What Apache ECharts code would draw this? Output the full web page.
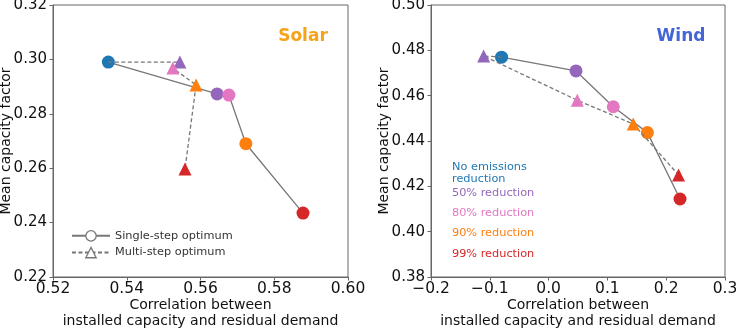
<!DOCTYPE html>
<html>
<head>
<meta charset="utf-8">
<script src="https://cdn.jsdelivr.net/npm/echarts@6/dist/echarts.min.js"></script>
<style>
html,body{margin:0;padding:0;background:#fff;}
#chart{width:736px;height:329px;}
</style>
</head>
<body>
<div id="chart"></div>
<script>
// scenario order: none, 50%, 80%, 90%, 99% reduction
const scenarioLabels=["No emissions\nreduction","50% reduction","80% reduction","90% reduction","99% reduction"];
const scenarioColors=["#1f77b4","#9467bd","#e377c2","#ff7f0e","#d62728"];

// solar: [correlation, mean capacity factor]
const solarSingle=[[0.535,0.299],[0.5645,0.2873],[0.5677,0.2869],[0.5723,0.269],[0.5878,0.2435]];
const solarMulti=[[0.535,0.299],[0.5544,0.299],[0.5525,0.2968],[0.5588,0.2906],[0.5558,0.2597]];

// wind
const windSingle=[[-0.08,0.477],[0.0466,0.4709],[0.110,0.4551],[0.168,0.4437],[0.2235,0.4144]];
const windMulti=[[-0.08,0.477],[-0.1105,0.4775],[0.0487,0.458],[0.144,0.4475],[0.221,0.425]];

const solarXTicks=[0.52,0.60,0.02];
const solarYTicks=[0.22,0.32,0.02];
const windXTicks=[-0.2,0.3,0.1];
const windYTicks=[0.38,0.50,0.02];

const lineGrey="#777";
const font="DejaVu Sans";

function pts(rows,skipFirst){
    return rows.map((r,i)=>({
        value:r,
        symbolSize:(skipFirst&&i===0)?0:undefined,
        itemStyle:{color:scenarioColors[i]}
    }));
}

function xAxis(idx,t,dec){
    return {
        gridIndex:idx,type:"value",min:t[0],max:t[1],interval:t[2],
        name:"Correlation between\ninstalled capacity and residual demand",
        nameLocation:"middle",nameGap:20,nameMoveOverlap:false,
        nameTextStyle:{fontFamily:font,fontSize:14,color:"#111",lineHeight:16},
        axisLine:{onZero:false,lineStyle:{color:"#666"}},
        axisTick:{show:true,length:3.5,lineStyle:{color:"#666"}},
        axisLabel:{fontFamily:font,fontSize:15.5,color:"#111",margin:4,
            formatter:v=>{const s=Math.abs(v).toFixed(dec);return v<-1e-9?"\u2212"+s:s;}},
        splitLine:{show:false}
    };
}
function yAxis(idx,t,gap){
    return {
        gridIndex:idx,type:"value",min:t[0],max:t[1],interval:t[2],
        name:"Mean capacity factor",nameLocation:"middle",nameGap:gap,nameMoveOverlap:false,
        nameTextStyle:{fontFamily:font,fontSize:14,color:"#111"},
        axisLine:{onZero:false,lineStyle:{color:"#666"}},
        axisTick:{show:true,length:3.5,lineStyle:{color:"#666"}},
        axisLabel:{fontFamily:font,fontSize:15,color:"#111",margin:6,formatter:v=>v.toFixed(2)},
        splitLine:{show:false}
    };
}

function series(name,idx,rows,dashed,symbol){
    return {
        name:name,type:"line",xAxisIndex:idx,yAxisIndex:idx,
        data:pts(rows,dashed),symbol:symbol,symbolSize:13,
        lineStyle:{color:lineGrey,width:1.3,type:dashed?[4,2.5]:"solid"},
        itemStyle:{color:lineGrey},
        z:dashed?3:2,animation:false
    };
}

const chart=echarts.init(document.getElementById("chart"));

const annY=[168,180,194,214,234,255];

chart.setOption({
    animation:false,
    title:[
        {text:"Solar",left:298,top:32,textAlign:"center",textVerticalAlign:"middle",
         textStyle:{fontFamily:font,fontSize:17,fontWeight:"bold",color:"#f5a31a"}},
        {text:"Wind",left:676,top:32,textAlign:"center",textVerticalAlign:"middle",
         textStyle:{fontFamily:font,fontSize:17,fontWeight:"bold",color:"#4466d6"}}
    ],
    grid:[
        {left:53,width:295,top:5,height:272,show:true,borderColor:"#666",borderWidth:1,outerBoundsMode:"none"},
        {left:431,width:294,top:5,height:272,show:true,borderColor:"#666",borderWidth:1,outerBoundsMode:"none"}
    ],
    xAxis:[xAxis(0,solarXTicks,2),xAxis(1,windXTicks,1)],
    yAxis:[yAxis(0,solarYTicks,40),yAxis(1,windYTicks,40)],
    legend:{
        left:66,top:225,orient:"vertical",itemGap:5,itemWidth:38,itemHeight:13,
        textStyle:{fontFamily:font,fontSize:11.3,color:"#333"},
        data:[
            {name:"Single-step optimum",itemStyle:{color:"#fff",borderColor:lineGrey,borderWidth:1.3}},
            {name:"Multi-step optimum",itemStyle:{color:"#fff",borderColor:lineGrey,borderWidth:1.3}}
        ]
    },
    graphic:scenarioLabels.map((t,i)=>({
        type:"text",left:452,top:(i===0?annY[0]:annY[i+1])-7,
        style:{text:t,fill:scenarioColors[i],font:"11.3px 'DejaVu Sans'",lineHeight:12}
    })),
    series:[
        series("Single-step optimum",0,solarSingle,false,"circle"),
        series("Multi-step optimum",0,solarMulti,true,"triangle"),
        series("Single-step optimum",1,windSingle,false,"circle"),
        series("Multi-step optimum",1,windMulti,true,"triangle")
    ]
});
</script>
</body>
</html>
